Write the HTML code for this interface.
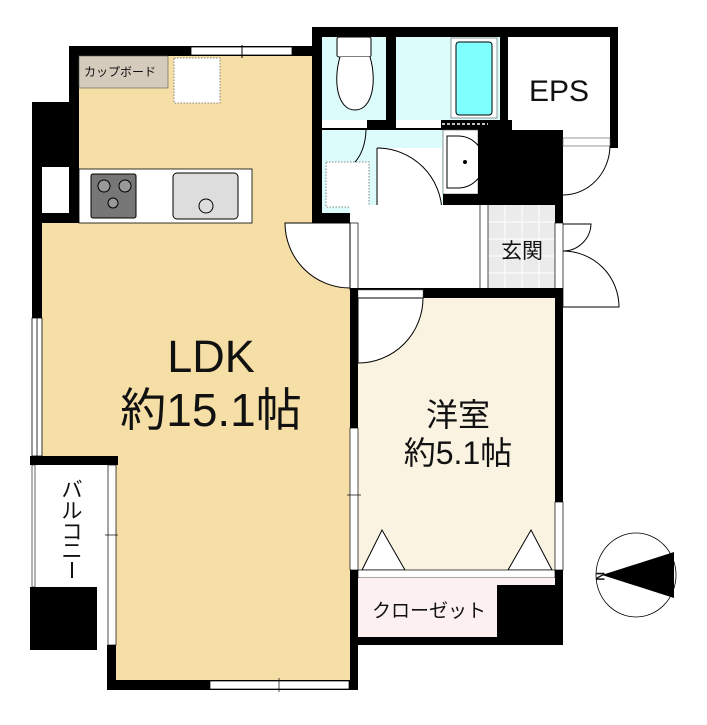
<!DOCTYPE html>
<html><head><meta charset="utf-8"><style>
html,body{margin:0;padding:0;background:#fff;width:707px;height:725px;overflow:hidden}
svg{display:block}
text{font-family:"Liberation Sans","Noto Sans CJK JP",sans-serif;fill:#111}
</style></head><body>
<svg width="707" height="725" viewBox="0 0 707 725" xmlns="http://www.w3.org/2000/svg">
<polygon points="79,56 312,56 312,223 350,223 350,680 116,680 116,456 42,456 42,223 79,223" fill="#f5dfa6"/>
<rect x="69" y="46" width="250" height="10" fill="#000"/>
<rect x="191" y="47" width="101" height="8" fill="#fff" stroke="#000" stroke-width="0.8"/>
<line x1="242" y1="45" x2="242" y2="58" stroke="#000"/>
<rect x="69" y="46" width="10" height="177" fill="#000"/>
<rect x="32" y="102" width="47" height="121" fill="#000"/>
<rect x="42" y="167" width="27" height="46" fill="#fff"/>
<rect x="32" y="223" width="10" height="95" fill="#000"/>
<rect x="32" y="318" width="10" height="138" fill="#fff" stroke="#000" stroke-width="0.8"/>
<line x1="37" y1="318" x2="37" y2="456" stroke="#000" stroke-width="0.8"/>
<rect x="79" y="56" width="89" height="32" fill="#d5cbbd" stroke="#555" stroke-width="0.6"/>
<text x="84" y="76" font-size="12">カップボード</text>
<rect x="174" y="58" width="46" height="45" fill="#fff" stroke="#666" stroke-dasharray="1.5,1.5" stroke-width="0.8"/>
<rect x="79" y="169" width="173" height="54" fill="#fff" stroke="#000" stroke-width="0.8"/>
<rect x="91" y="174" width="45" height="44" rx="2" fill="#777" stroke="#000"/>
<circle cx="104" cy="186" r="6" fill="#999" stroke="#000"/>
<circle cx="125" cy="186" r="6" fill="#999" stroke="#000"/>
<circle cx="113" cy="203" r="5" fill="#999" stroke="#000"/>
<rect x="173" y="173" width="65" height="46" rx="4" fill="#ddd" stroke="#000"/>
<circle cx="206" cy="206" r="7" fill="#ddd" stroke="#000"/>
<!-- balcony -->
<rect x="30" y="456" width="88" height="9" fill="#000"/>
<rect x="32" y="465" width="3" height="122" fill="#fff" stroke="#000" stroke-width="0.6"/>
<rect x="30" y="587" width="67" height="63" fill="#000"/>
<rect x="108" y="465" width="8" height="180" fill="#fff" stroke="#000" stroke-width="0.7"/>
<line x1="105" y1="535" x2="118" y2="535" stroke="#000" stroke-width="0.7"/>
<rect x="107" y="645" width="9" height="45" fill="#000"/>
<g font-size="21" text-anchor="middle">
<text x="72" y="497">バ</text>
<text x="72" y="518">ル</text>
<text x="72" y="539">コ</text>
<text x="72" y="558">ニ</text>
</g>
<line x1="72" y1="562" x2="72" y2="578" stroke="#111" stroke-width="2"/>
<rect x="107" y="680" width="251" height="10" fill="#000"/>
<rect x="210" y="681" width="139" height="8" fill="#fff" stroke="#000" stroke-width="0.7"/>
<line x1="279" y1="678" x2="279" y2="692" stroke="#000" stroke-width="0.7"/>
<text x="211" y="372" font-size="45" text-anchor="middle">LDK</text>
<text x="211" y="426" font-size="46" text-anchor="middle">約15.1帖</text>
<!-- wet area -->
<rect x="312" y="27" width="306" height="10" fill="#000"/>
<rect x="312" y="27" width="10" height="196" fill="#000"/>
<rect x="322" y="37" width="64" height="83" fill="#dcfcfc"/>
<rect x="386" y="37" width="10" height="93" fill="#000"/>
<rect x="396" y="37" width="104" height="83" fill="#dcfcfc"/>
<rect x="451" y="38" width="46" height="80" fill="#fff" stroke="#555" stroke-width="0.6"/>
<rect x="456" y="42" width="36" height="73" rx="3" fill="#80ffff" stroke="#000"/>
<rect x="337" y="37" width="34" height="20" rx="2" fill="#fff" stroke="#000"/>
<path d="M340,57 C333,80 337,110 355,110 C373,110 377,80 370,57" fill="#fff" stroke="#000"/>
<rect x="500" y="37" width="8" height="101" fill="#000"/>
<rect x="508" y="37" width="102" height="101" fill="#fff"/>
<rect x="610" y="27" width="8" height="121" fill="#000"/>
<text x="559" y="101" font-size="30" text-anchor="middle">EPS</text>
<rect x="322" y="120" width="190" height="10" fill="#000"/>
<rect x="322" y="120" width="45" height="8" fill="#fff"/>
<rect x="396" y="120" width="45" height="8" fill="#fff"/>
<line x1="442" y1="124" x2="488" y2="124" stroke="#fff" stroke-dasharray="3,2" stroke-width="1.5"/>
<rect x="322" y="130" width="123" height="83" fill="#dcfcfc"/>
<rect x="326" y="162" width="43" height="45" fill="#fff" stroke="#666" stroke-dasharray="1.5,1.5" stroke-width="0.8"/>
<path d="M366,130 A24,40 0 0 1 355,162" fill="none" stroke="#000"/>
<rect x="377" y="148" width="65" height="65" fill="#fff"/>
<path d="M377,148 A65,65 0 0 1 442,213" fill="none" stroke="#000"/>
<line x1="377" y1="148" x2="377" y2="213" stroke="#000"/>
<rect x="443" y="130" width="35" height="64" fill="#fff" stroke="#555" stroke-width="0.6"/>
<path d="M447,136 L458,136 A26,26 0 0 1 458,188 L447,188 Z" fill="#fff" stroke="#000"/>
<circle cx="465" cy="162" r="2" fill="#000"/>
<rect x="478" y="130" width="85" height="75" fill="#000"/>
<rect x="443" y="194" width="120" height="11" fill="#000"/>
<rect x="443" y="194" width="9" height="29" fill="#000"/>
<rect x="322" y="213" width="130" height="10" fill="#000"/>
<rect x="377" y="214" width="65" height="8" fill="#fff" stroke="#555" stroke-width="0.5"/>
<rect x="350" y="205" width="138" height="85" fill="#fff"/>
<rect x="452" y="205" width="36" height="18" fill="#fff"/>
<rect x="488" y="205" width="67" height="85" fill="#ebebeb"/>
<g stroke="#fff" stroke-width="1">
<line x1="505" y1="205" x2="505" y2="290"/><line x1="522" y1="205" x2="522" y2="290"/><line x1="539" y1="205" x2="539" y2="290"/>
<line x1="488" y1="222" x2="555" y2="222"/><line x1="488" y1="239" x2="555" y2="239"/><line x1="488" y1="256" x2="555" y2="256"/><line x1="488" y1="273" x2="555" y2="273"/>
</g>
<line x1="480" y1="205" x2="480" y2="290" stroke="#000" stroke-width="0.7"/>
<line x1="488" y1="205" x2="488" y2="290" stroke="#000" stroke-width="0.7"/>
<text x="522" y="258" font-size="21" text-anchor="middle">玄関</text>
<rect x="350" y="223" width="8" height="67" fill="#fff" stroke="#000" stroke-width="0.7"/>
<path d="M285,223 L350,223 L350,288 A65,65 0 0 1 285,223 Z" fill="#fff" stroke="#000"/>
<rect x="555" y="140" width="8" height="83" fill="#000"/>
<rect x="563" y="138" width="47" height="8" fill="#fff" stroke="#555" stroke-width="0.6"/>
<path d="M563,195 A47,50 0 0 0 610,146" fill="none" stroke="#000"/>
<rect x="555" y="223" width="8" height="84" fill="#fff" stroke="#000" stroke-width="0.7"/>
<path d="M563,224 L591,224 A28,28 0 0 1 563,251" fill="none" stroke="#000"/>
<path d="M563,251 A56,56 0 0 1 619,307 L563,307" fill="none" stroke="#000"/>
<!-- bedroom -->
<rect x="358" y="298" width="197" height="272" fill="#faf3e2"/>
<rect x="350" y="288" width="213" height="10" fill="#000"/>
<rect x="358" y="290" width="65" height="8" fill="#fff" stroke="#555" stroke-width="0.5"/>
<path d="M358,298 L423,298 A65,65 0 0 1 358,363 Z" fill="#fff" stroke="#000"/>
<rect x="350" y="288" width="8" height="140" fill="#000"/>
<rect x="350" y="428" width="8" height="142" fill="#fff" stroke="#000" stroke-width="0.7"/>
<line x1="347" y1="495" x2="361" y2="495" stroke="#000" stroke-width="0.7"/>
<rect x="555" y="298" width="8" height="204" fill="#000"/>
<rect x="555" y="502" width="8" height="68" fill="#fff" stroke="#000" stroke-width="0.7"/>
<text x="458" y="426" font-size="32" text-anchor="middle">洋室</text>
<text x="458" y="464" font-size="32" text-anchor="middle">約5.1帖</text>
<polygon points="362,570 382,530 405,570" fill="#fff" stroke="#000"/>
<polygon points="508,570 531,530 552,570" fill="#fff" stroke="#000"/>
<rect x="350" y="570" width="8" height="120" fill="#000"/>
<rect x="358" y="570" width="197" height="8" fill="#fff" stroke="#000" stroke-width="0.7"/>
<rect x="358" y="578" width="197" height="59" fill="#fdf0f0"/>
<rect x="497" y="585" width="66" height="60" fill="#000"/>
<rect x="555" y="570" width="8" height="75" fill="#000"/>
<rect x="350" y="637" width="213" height="8" fill="#000"/>
<text x="372" y="617" font-size="19">クローゼット</text>
<ellipse cx="636" cy="575" rx="40" ry="42" fill="#fff" stroke="#000" stroke-width="0.8"/>
<polygon points="602,575 674,552 674,598" fill="#000"/>
<text x="598" y="580" font-size="12" transform="rotate(90 601 575)" font-weight="bold">N</text>
</svg>
</body></html>
